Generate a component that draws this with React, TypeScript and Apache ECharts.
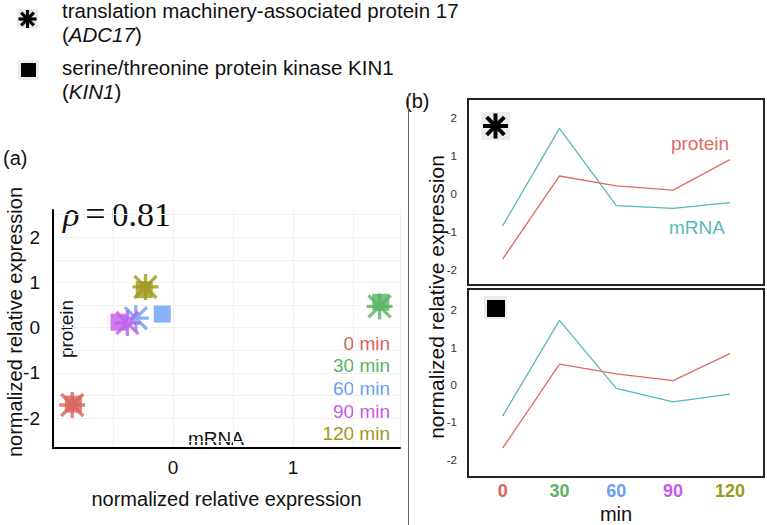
import React, { useEffect, useRef } from 'react';
import * as echarts from 'echarts';

// ---- data ----
const times = [0, 30, 60, 90, 120];
const timeLabels = ['0 min', '30 min', '60 min', '90 min', '120 min'];
const adc17Mrna = [-0.84, 1.72, -0.31, -0.38, -0.23];
const adc17Protein = [-1.71, 0.47, 0.21, 0.1, 0.9];
const kin1Mrna = [-0.83, 1.73, -0.09, -0.45, -0.24];
const kin1Protein = [-1.69, 0.56, 0.3, 0.12, 0.84];
const scatterXTicks = [0, 1];
const scatterYTicks = [-2, -1, 0, 1, 2];
const scatterGridY = [-2.5, -2, -1.5, -1, -0.5, 0, 0.5, 1, 1.5, 2, 2.5];
const lineYTicks = [-2, -1, 0, 1, 2];
const rhoValue = '0.81';
const gene1Name = 'translation machinery-associated protein 17';
const gene1Code = 'ADC17';
const gene2Name = 'serine/threonine protein kinase KIN1';
const gene2Code = 'KIN1';

// ---- styles ----
const timeColors = ['#d9635a', '#5bb363', '#6a9ff5', '#c55ae9', '#9b9a1d'];
const PROTEIN = '#e06b63';
const MRNA = '#56b9bd';
const FONT = 'Liberation Sans';
const ASTERISK =
  'path://M0,8.7L20,8.7L20,11.3L0,11.3Z M8.7,0L11.3,0L11.3,20L8.7,20Z M2.42,0.58L19.42,17.58L17.58,19.42L0.58,2.42Z M17.58,0.58L19.42,2.42L2.42,19.42L0.58,17.58Z';

function asterisk(cx: number, cy: number, r: number, w: number) {
  const out: any[] = [];
  for (let k = 0; k < 4; k++) {
    const a = (k * Math.PI) / 4;
    out.push({
      type: 'line',
      shape: { x1: cx - r * Math.cos(a), y1: cy - r * Math.sin(a), x2: cx + r * Math.cos(a), y2: cy + r * Math.sin(a) },
      style: { stroke: '#000', lineWidth: w },
    });
  }
  return out;
}

export default function App() {
  const ref = useRef<HTMLDivElement>(null);
  useEffect(() => {
    if (!ref.current) return;
    const chart = echarts.init(ref.current, undefined, { renderer: 'svg' });

    const rich: any = {};
    times.forEach((t, i) => {
      rich['t' + i] = { color: timeColors[i], fontWeight: 'bold', fontSize: 18, fontFamily: FONT };
    });

    const txt = (x: number, y: number, text: string, extra: any = {}, styleExtra: any = {}) => ({
      type: 'text',
      x,
      y,
      ...extra,
      style: { text, fontFamily: FONT, fontSize: 19, fill: '#111', ...styleExtra },
    });
    const italicRich = { i: { fontStyle: 'italic', fontFamily: FONT, fontSize: 20.5, fill: '#111' } };

    const graphic: any[] = [
      // top legend
      { type: 'rect', shape: { x: 17, y: 9, width: 21, height: 20 }, style: { fill: '#ececec' } },
      ...asterisk(27.5, 19, 9, 3.2),
      { type: 'rect', shape: { x: 18, y: 60, width: 21, height: 20 }, style: { fill: '#ececec' } },
      { type: 'rect', shape: { x: 21, y: 63, width: 15, height: 14 }, style: { fill: '#000' } },
      txt(62, 10, gene1Name, {}, { verticalAlign: 'middle', fontSize: 20.5 }),
      txt(62, 34, '({i|' + gene1Code + '})', {}, { verticalAlign: 'middle', fontSize: 20.5, rich: italicRich }),
      txt(62, 67, gene2Name, {}, { verticalAlign: 'middle', fontSize: 20.5 }),
      txt(62, 91, '({i|' + gene2Code + '})', {}, { verticalAlign: 'middle', fontSize: 20.5, rich: italicRich }),
      // panel labels
      txt(3, 158, '(a)', {}, { verticalAlign: 'middle', fontSize: 20 }),
      txt(405, 101, '(b)', {}, { verticalAlign: 'middle', fontSize: 20 }),
      // separator
      { type: 'line', shape: { x1: 408.5, y1: 94, x2: 408.5, y2: 525 }, style: { stroke: '#666', lineWidth: 1 } },
      // rho
      txt(63, 214, '{r|ρ}{s| }{e|=}{s| }{n|' + rhoValue + '}', {}, {
        verticalAlign: 'middle',
        rich: {
          r: { fontFamily: 'Liberation Serif', fontSize: 34, fontStyle: 'italic', fill: '#111' },
          s: { fontFamily: 'Liberation Serif', fontSize: 24, fill: '#111' },
          e: { fontFamily: 'Liberation Serif', fontSize: 36, fill: '#111' },
          n: { fontFamily: 'Liberation Serif', fontSize: 34, fill: '#111' },
        },
      }),
      // scatter inner axis labels
      txt(66, 329, 'protein', { rotation: Math.PI / 2 }, { align: 'center', verticalAlign: 'middle' }),
      txt(216, 438, 'mRNA', {}, { align: 'center', verticalAlign: 'middle' }),
      // scatter y title
      txt(15, 322, 'normalized relative expression', { rotation: Math.PI / 2 }, { align: 'center', verticalAlign: 'middle', fontSize: 20 }),
      // right y title
      txt(436, 297, 'normalized relative expression', { rotation: Math.PI / 2 }, { align: 'center', verticalAlign: 'middle', fontSize: 21 }),
      // panel b icons
      { type: 'rect', shape: { x: 481, y: 112, width: 29, height: 28 }, style: { fill: '#ececec' } },
      ...asterisk(495.5, 126, 12.5, 4),
      { type: 'rect', shape: { x: 484, y: 296, width: 23, height: 23 }, style: { fill: '#ececec' } },
      { type: 'rect', shape: { x: 487, y: 300, width: 18, height: 17 }, style: { fill: '#000' } },
      // panel b line labels
      txt(700, 143, 'protein', {}, { align: 'center', verticalAlign: 'middle', fill: PROTEIN }),
      txt(697, 227, 'mRNA', {}, { align: 'center', verticalAlign: 'middle', fill: MRNA }),
    ];
    timeLabels.forEach((l, i) => {
      graphic.push(txt(390, 343 + i * 22.7, l, {}, { align: 'right', verticalAlign: 'middle', fill: timeColors[i] }));
    });

    const lineX = (idx: number, showLabels: boolean) => ({
      type: 'value',
      gridIndex: idx,
      min: -18.3,
      max: 138,
      axisLine: { show: false },
      axisTick: { show: false },
      splitLine: { show: false },
      axisLabel: showLabels
        ? {
            customValues: times,
            margin: 5,
            formatter: (v: number) => '{t' + times.indexOf(v) + '|' + v + '}',
            rich,
          }
        : { show: false },
      name: showLabels ? 'min' : '',
      nameLocation: 'middle',
      nameGap: 27,
      nameTextStyle: { fontFamily: FONT, fontSize: 20, color: '#111' },
    });
    const lineY = (idx: number, min: number, max: number) => ({
      type: 'value',
      gridIndex: idx,
      min,
      max,
      axisLine: { show: false },
      axisTick: { show: false },
      splitLine: { show: false },
      axisLabel: { customValues: lineYTicks, fontFamily: FONT, fontSize: 11.5, color: '#333', margin: 11 },
    });

    chart.setOption({
      animation: false,
      backgroundColor: '#fff',
      graphic,
      grid: [
        { left: 53, top: 210, width: 347, height: 238 },
        { left: 468, top: 99, width: 296, height: 186, show: true, borderColor: '#222', borderWidth: 2 },
        { left: 468, top: 289, width: 296, height: 192, show: true, borderColor: '#222', borderWidth: 2 },
      ],
      xAxis: [
        {
          type: 'value',
          gridIndex: 0,
          min: -1,
          max: 1.89,
          interval: 0.5,
          axisLine: { show: true, onZero: false, lineStyle: { color: '#000', width: 2 } },
          axisTick: { show: false },
          axisLabel: { customValues: scatterXTicks, fontFamily: FONT, fontSize: 19, color: '#111', margin: 10 },
          splitLine: { show: true, lineStyle: { color: '#f1f1f1', width: 1 } },
          name: 'normalized relative expression',
          nameLocation: 'middle',
          nameGap: 41,
          nameTextStyle: { fontFamily: FONT, fontSize: 20, color: '#111' },
        },
        lineX(1, false),
        lineX(2, true),
      ],
      yAxis: [
        {
          type: 'value',
          gridIndex: 0,
          min: -2.66,
          max: 2.6,
          axisLine: { show: true, onZero: false, lineStyle: { color: '#000', width: 2 } },
          axisTick: { show: false, customValues: scatterGridY },
          axisLabel: { customValues: scatterYTicks, fontFamily: FONT, fontSize: 19, color: '#111', margin: 13 },
          splitLine: { show: true, lineStyle: { color: '#f1f1f1', width: 1 } },
        },
        lineY(1, -2.39, 2.49),
        lineY(2, -2.46, 2.57),
      ],
      series: [
        {
          type: 'scatter',
          xAxisIndex: 0,
          yAxisIndex: 0,
          symbol: 'rect',
          symbolSize: 17,
          data: times.map((t, i) => ({ value: [kin1Mrna[i], kin1Protein[i]], itemStyle: { color: timeColors[i] } })),
        },
        {
          type: 'scatter',
          xAxisIndex: 0,
          yAxisIndex: 0,
          symbol: ASTERISK,
          symbolSize: 26,
          data: times.map((t, i) => ({ value: [adc17Mrna[i], adc17Protein[i]], itemStyle: { color: timeColors[i] } })),
        },
        {
          type: 'line',
          xAxisIndex: 1,
          yAxisIndex: 1,
          symbol: 'none',
          lineStyle: { color: MRNA, width: 1.3 },
          data: times.map((t, i) => [t, adc17Mrna[i]]),
        },
        {
          type: 'line',
          xAxisIndex: 1,
          yAxisIndex: 1,
          symbol: 'none',
          lineStyle: { color: PROTEIN, width: 1.3 },
          data: times.map((t, i) => [t, adc17Protein[i]]),
        },
        {
          type: 'line',
          xAxisIndex: 2,
          yAxisIndex: 2,
          symbol: 'none',
          lineStyle: { color: MRNA, width: 1.3 },
          data: times.map((t, i) => [t, kin1Mrna[i]]),
        },
        {
          type: 'line',
          xAxisIndex: 2,
          yAxisIndex: 2,
          symbol: 'none',
          lineStyle: { color: PROTEIN, width: 1.3 },
          data: times.map((t, i) => [t, kin1Protein[i]]),
        },
      ],
    });
    return () => chart.dispose();
  }, []);
  return <div ref={ref} style={{ position: 'absolute', left: 0, top: 0, width: 767, height: 525 }} />;
}
